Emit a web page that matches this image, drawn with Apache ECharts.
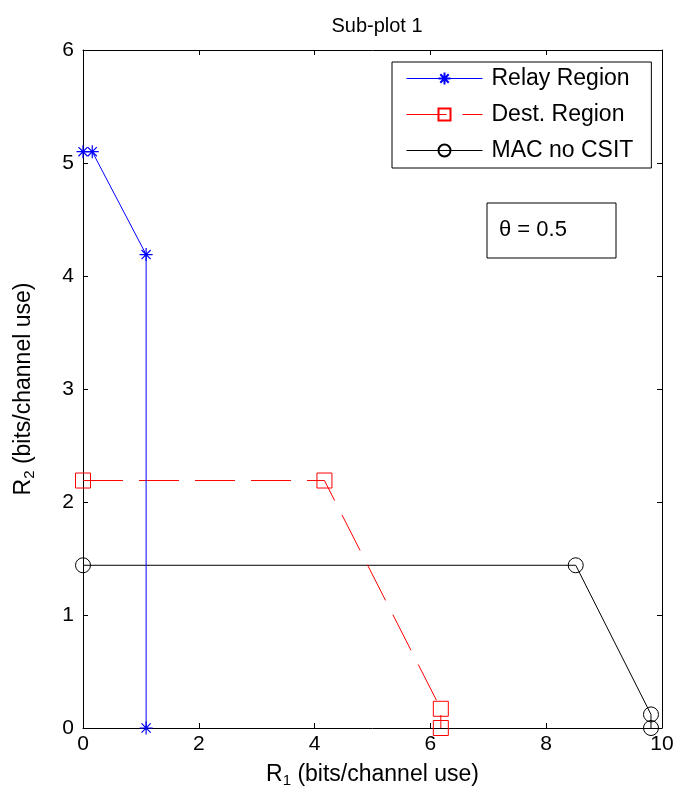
<!DOCTYPE html>
<html><head><meta charset="utf-8">
<script src="https://cdn.jsdelivr.net/npm/echarts@6/dist/echarts.min.js"></script>
<style>html,body{margin:0;padding:0;background:#fff}#c{width:681px;height:799px}</style>
</head><body><div id="c"></div>
<script>
const relayX = [0, 0.16, 1.09, 1.09];
const relayY = [5.10, 5.10, 4.19, 0];
const destX = [0, 4.17, 6.18, 6.18];
const destY = [2.19, 2.19, 0.17, 0];
const macX = [0, 8.51, 9.81, 9.81];
const macY = [1.44, 1.44, 0.12, 0];
const xTicks = [0, 2, 4, 6, 8, 10];
const yTicks = [0, 1, 2, 3, 4, 5, 6];
const seriesNames = ['Relay Region', 'Dest. Region', 'MAC no CSIT'];

const pts = (xs, ys) => xs.map((x, i) => [x, ys[i]]);
const F = 'Liberation Sans, Arial, sans-serif';
const star = 'path://M0 5 L10 5 M5 0 L5 10 M1.5 1.5 L8.5 8.5 M1.5 8.5 L8.5 1.5';

const chart = echarts.init(document.getElementById('c'));
const axisBase = {
  type: 'value', min: 0,
  axisLine: {show: true, onZero: false, lineStyle: {color: '#000', width: 1}},
  axisTick: {show: true, inside: true, length: 5, lineStyle: {color: '#000'}},
  splitLine: {show: false},
};
const nameRich = {rich: {n: {fontFamily: F, fontSize: 23, color: '#000'},
  s: {fontFamily: F, fontSize: 15, color: '#000', padding: [12, 0, 0, 0]}}};
chart.setOption({
  animation: false,
  backgroundColor: '#fff',
  title: {text: 'Sub-plot 1', left: 372, top: 11, textAlign: 'center',
    textStyle: {fontFamily: F, fontSize: 20, fontWeight: 'normal', color: '#000'}},
  grid: {left: 83, right: 19, top: 50, bottom: 71, show: false},
  xAxis: [
    Object.assign({}, axisBase, {max: 10, interval: 2, position: 'bottom',
      axisLabel: {fontFamily: F, fontSize: 21, color: '#000', margin: 6,
        formatter: v => xTicks.includes(v) ? String(v) : ''},
      name: '{n|R}{s|1}{n| (bits/channel use)}', nameLocation: 'middle', nameGap: 33,
      nameTextStyle: nameRich}),
    Object.assign({}, axisBase, {max: 10, interval: 2, position: 'top', axisLabel: {show: false}})
  ],
  yAxis: [
    Object.assign({}, axisBase, {max: 6, interval: 1, position: 'left',
      axisLabel: {fontFamily: F, fontSize: 21, color: '#000', margin: 9,
        formatter: v => yTicks.includes(v) ? String(v) : ''},
      name: '{n|R}{s|2}{n| (bits/channel use)}', nameLocation: 'middle', nameGap: 46, nameRotate: 90,
      nameTextStyle: nameRich}),
    Object.assign({}, axisBase, {max: 6, interval: 1, position: 'right', axisLabel: {show: false}})
  ],
  legend: {
    orient: 'vertical', left: 392, top: 62,
    padding: [5, 18, 6, 14], itemGap: 13,
    backgroundColor: '#fff', borderColor: '#000', borderWidth: 1, borderRadius: 0,
    itemWidth: 76, itemHeight: 15,
    lineStyle: {width: 1},
    textStyle: {fontFamily: F, fontSize: 23, color: '#000', padding: [0, 0, 0, 4]},
    data: seriesNames
  },
  graphic: [
    {type: 'rect', shape: {x: 487, y: 203, width: 129, height: 55},
      style: {fill: '#fff', stroke: '#000', lineWidth: 1}, z: 10},
    {type: 'text', x: 499, y: 230, z: 11,
      style: {text: 'θ = 0.5', fontFamily: F, fontSize: 22, fill: '#000', verticalAlign: 'middle'}}
  ],
  series: [
    {name: seriesNames[0], type: 'line', data: pts(relayX, relayY),
      symbol: star, symbolSize: 13,
      lineStyle: {color: '#0000ff', width: 1},
      itemStyle: {color: 'none', borderColor: '#0000ff', borderWidth: 1.2},
      z: 5},
    {name: seriesNames[1], type: 'line', data: pts(destX, destY),
      symbol: 'rect', symbolSize: 15,
      lineStyle: {color: '#ff0000', width: 1, type: [40, 16]},
      itemStyle: {color: 'none', borderColor: '#ff0000', borderWidth: 1},
      z: 4},
    {name: seriesNames[2], type: 'line', data: pts(macX, macY),
      symbol: 'circle', symbolSize: 15,
      lineStyle: {color: '#000', width: 1},
      itemStyle: {color: 'none', borderColor: '#000', borderWidth: 1},
      z: 3}
  ]
});
</script></body></html>
